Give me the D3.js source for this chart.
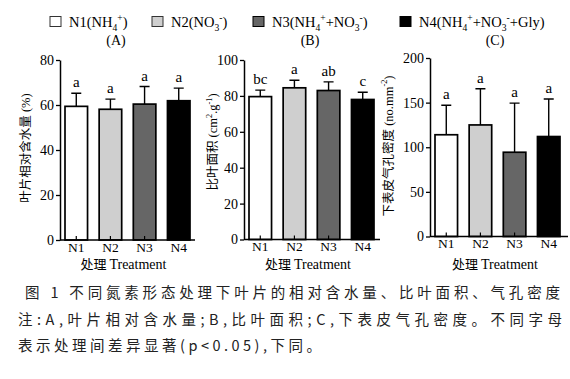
<!DOCTYPE html>
<html>
<head>
<meta charset="utf-8">
<script src="https://cdn.jsdelivr.net/npm/d3@7"></script>
<style>
  body { margin: 0; background: #fff; }
  svg { display: block; }
</style>
</head>
<body>
<div id="chart"></div>
<script>
// data
const treatments = ["N1", "N2", "N3", "N4"];
const fills = ["#ffffff", "#cfcfcf", "#666666", "#000000"];

const rwcMean = [59.4, 58.1, 60.4, 61.9];
const rwcErr = [5.8, 4.5, 7.8, 5.6];
const rwcLetters = ["a", "a", "a", "a"];
const rwcTicks = [0, 20, 40, 60, 80];

const slaMean = [79.6, 84.5, 83.0, 78.0];
const slaErr = [3.6, 4.2, 4.8, 4.0];
const slaLetters = ["bc", "a", "ab", "c"];
const slaTicks = [0, 20, 40, 60, 80, 100];

const sdMean = [114, 125, 94.4, 112];
const sdErr = [33, 40.5, 55, 42];
const sdLetters = ["a", "a", "a", "a"];
const sdTicks = [0, 50, 100, 150, 200];

const legendLabels = [
    [["N1(NH", 0], ["4", "sub"], ["+", "sup"], [")", 0]],
    [["N2(NO", 0], ["3", "sub"], ["-", "sup"], [")", 0]],
    [["N3(NH", 0], ["4", "sub"], ["+", "sup"], ["+NO", 0], ["3", "sub"], ["-", "sup"], [")", 0]],
    [["N4(NH", 0], ["4", "sub"], ["+", "sup"], ["+NO", 0], ["3", "sub"], ["-", "sup"], ["+Gly)", 0]]
];
const captionLines = [
    "图 1  不同氮素形态处理下叶片的相对含水量、比叶面积、气孔密度",
    "注:A,叶片相对含水量;B,比叶面积;C,下表皮气孔密度。不同字母",
    "表示处理间差异显著(p<0.05),下同。"
];

const serif = "'Liberation Serif', 'Times New Roman', serif";
const cjk = "'Noto Sans CJK SC', sans-serif";

const svg = d3.select("#chart").append("svg")
    .attr("width", 570)
    .attr("height", 379);

// text with sub/superscripts
function rich(sel, segs, size) {
    let off = 0;
    segs.forEach(([t, k]) => {
        const target = k === "sup" ? -0.42 * size : k === "sub" ? 0.25 * size : 0;
        sel.append("tspan")
            .attr("dy", target - off)
            .style("font-size", (k ? size * 0.66 : size) + "px")
            .text(t);
        off = target;
    });
}

// panel setup
const panels = [
    { tag: "(A)", tagX: 116, mean: rwcMean, err: rwcErr, letters: rwcLetters, ticks: rwcTicks,
      axisX: 60, endX: 195, top: 60, base: 240, titleX: 30, titleY: 148,
      title: [["叶片相对含水量", "cjk"], [" (%)", 0]] },
    { tag: "(B)", tagX: 310, mean: slaMean, err: slaErr, letters: slaLetters, ticks: slaTicks,
      axisX: 244, endX: 380, top: 60, base: 239.5, titleX: 217, titleY: 142,
      title: [["比叶面积", "cjk"], [" (cm", 0], ["2", "sup"], [".g", 0], ["-1", "sup"], [")", 0]] },
    { tag: "(C)", tagX: 495, mean: sdMean, err: sdErr, letters: sdLetters, ticks: sdTicks,
      axisX: 430, endX: 568, top: 58, base: 236.5, titleX: 392.5, titleY: 146,
      title: [["下表皮气孔密度", "cjk"], [" (no.mm", 0], ["-2", "sup"], [")", 0]] }
];

panels.forEach(p => {
    const g = svg.append("g");
    const data = treatments.map((t, i) => ({ t, m: p.mean[i], e: p.err[i], l: p.letters[i], f: fills[i] }));

    const x = d3.scaleBand()
        .domain(treatments)
        .range([p.axisX + 5, p.axisX + 130])
        .paddingInner(0.34)
        .paddingOuter(0);
    const y = d3.scaleLinear()
        .domain([0, d3.max(p.ticks)])
        .range([p.base, p.top]);

    // bars
    g.selectAll(".bar")
        .data(data)
        .enter()
        .append("rect")
        .attr("class", "bar")
        .attr("x", d => x(d.t))
        .attr("y", d => y(d.m))
        .attr("width", x.bandwidth())
        .attr("height", d => y(0) - y(d.m))
        .style("fill", d => d.f)
        .style("stroke", "#000")
        .style("stroke-width", 1.7);

    // error bars (upper only)
    const cx = d => x(d.t) + x.bandwidth() / 2;
    g.selectAll(".err")
        .data(data)
        .enter()
        .append("path")
        .attr("class", "err")
        .attr("d", d => `M${cx(d)},${y(d.m)}V${y(d.m + d.e)}M${cx(d) - 5},${y(d.m + d.e)}H${cx(d) + 5}`)
        .style("fill", "none")
        .style("stroke", "#000")
        .style("stroke-width", 1.4);

    g.selectAll(".letter")
        .data(data)
        .enter()
        .append("text")
        .attr("class", "letter")
        .attr("x", cx)
        .attr("y", d => y(d.m + d.e) - 6)
        .attr("text-anchor", "middle")
        .style("font-family", serif)
        .style("font-size", "15px")
        .text(d => d.l);

    // y axis
    const yAxis = g.append("g")
        .attr("transform", `translate(${p.axisX},0)`)
        .call(d3.axisLeft(y).tickValues(p.ticks).tickSize(4).tickSizeOuter(0).tickPadding(2));
    yAxis.select(".domain").style("stroke-width", 1.5);
    yAxis.selectAll(".tick line").style("stroke-width", 1.3);
    yAxis.selectAll("text").style("font-family", serif).style("font-size", "14px").style("fill", "#000");

    // x axis
    const xAxis = g.append("g")
        .attr("transform", `translate(0,${p.base})`)
        .call(d3.axisBottom(x).tickSize(-4).tickPadding(2));
    xAxis.select(".domain").remove();
    xAxis.selectAll(".tick line").style("stroke-width", 1.2);
    xAxis.selectAll("text").style("font-family", serif).style("font-size", "13.5px").style("fill", "#000");
    g.append("line")
        .attr("x1", p.axisX).attr("x2", p.endX)
        .attr("y1", p.base).attr("y2", p.base)
        .style("stroke", "#000")
        .style("stroke-width", 1.5);

    // x title
    const xt = g.append("text")
        .attr("x", (p.axisX + p.endX) / 2 - 4)
        .attr("y", 268.5)
        .attr("text-anchor", "middle");
    xt.append("tspan").style("font-family", cjk).style("font-size", "13px").text("处理 ");
    xt.append("tspan").style("font-family", serif).style("font-size", "14px").text("Treatment");

    // y title
    const yt = g.append("text")
        .attr("transform", `translate(${p.titleX},${p.titleY}) rotate(-90)`)
        .attr("text-anchor", "middle")
        .style("font-family", serif);
    let off = 0;
    p.title.forEach(([t, k]) => {
        const size = 12.5;
        const target = k === "sup" ? -0.42 * size : 0;
        yt.append("tspan")
            .attr("dy", target - off)
            .style("font-family", k === "cjk" ? cjk : serif)
            .style("font-size", (k === "sup" ? size * 0.66 : size) + "px")
            .text(t);
        off = target;
    });

    // panel tag
    svg.append("text")
        .attr("x", p.tagX)
        .attr("y", 45)
        .attr("text-anchor", "middle")
        .style("font-family", serif)
        .style("font-size", "14px")
        .text(p.tag);
});

// legend
const legendX = [50, 152, 253, 400];
const legend = svg.append("g");
legendLabels.forEach((segs, i) => {
    legend.append("rect")
        .attr("x", legendX[i]).attr("y", 16.5)
        .attr("width", 11).attr("height", 10)
        .style("fill", fills[i])
        .style("stroke", i === 1 || i === 0 ? "#333" : "#000")
        .style("stroke-width", 1);
    const t = legend.append("text")
        .attr("x", legendX[i] + 19)
        .attr("y", 27)
        .style("font-family", serif);
    rich(t, segs, 14.5);
});

// caption
const capX = [25, 18, 18];
const capLen = [535, 544, null];
captionLines.forEach((line, i) => {
    const t = svg.append("text")
        .attr("x", capX[i])
        .attr("y", 298 + i * 26.5)
        .style("font-family", cjk)
        .style("font-size", "14.5px")
        .style("fill", "#222")
        .text(line);
    if (capLen[i]) t.attr("textLength", capLen[i]).attr("lengthAdjust", "spacing");
    else t.style("letter-spacing", "3.5px");
});
</script>
</body>
</html>
